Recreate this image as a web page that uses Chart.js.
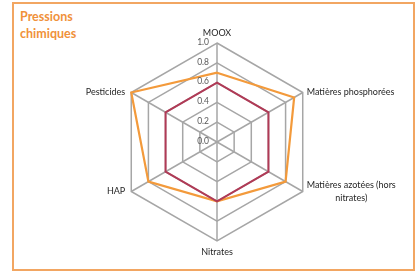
<!DOCTYPE html>
<html><head><meta charset="utf-8">
<script src="https://cdn.jsdelivr.net/npm/chart.js@4"></script>
<style>
html,body{margin:0;padding:0;background:#fff;width:418px;height:273px;overflow:hidden}
#frame{position:absolute;left:12px;top:2px;width:399px;height:265px;border:2px solid #F2A662;box-sizing:content-box}
#title{position:absolute;left:20px;top:8px;font:bold 12.5px Lato;color:#F0913A;line-height:17px}
#wrap{position:absolute;left:0;top:0;width:418px;height:273px}
</style></head>
<body>
<div id="frame"></div>
<div id="title">Pressions<br>chimiques</div>
<div id="wrap"><canvas id="c"></canvas></div>
<script>
const categories = ['MOOX', 'Matières phosphorées', ['Matières azotées (hors', 'nitrates)'], 'Nitrates', 'HAP', 'Pesticides'];
const seriesOrange = [0.7, 0.9, 0.8, 0.6, 0.8, 1.0];
const seriesRed = [0.6, 0.6, 0.6, 0.6, 0.6, 0.6];
const tickValues = [0, 0.2, 0.4, 0.6, 0.8, 1.0];
const tickLabels = ['0.0', '0.2', '0.4', '0.6', '0.8', '1.0'];

const labelPlugin = {
  id: 'customLabels',
  afterDraw(chart) {
    const s = chart.scales.r;
    const ctx = chart.ctx;
    ctx.save();
    ctx.textBaseline = 'middle';
    ctx.textAlign = 'center';
    ctx.font = '9px Lato';
    ctx.fillStyle = '#262626';
    chart.data.labels.forEach((lab, i) => {
      const lines = Array.isArray(lab) ? lab : [lab];
      const p = s.getPointPosition(i, s.drawingArea);
      const ang = s.getIndexAngle(i);
      const sn = Math.sin(ang), cs = Math.cos(ang);
      const lh = 13;
      const maxW = Math.max(...lines.map(l => ctx.measureText(l).width));
      let cx, cy = p.y;
      if (sn > 0.1) cx = p.x + 4 + maxW / 2;
      else if (sn < -0.1) cx = p.x - 6 - maxW / 2;
      else { cx = p.x; cy = p.y + (cs > 0 ? -10 : 11); }
      lines.forEach((l, k) => ctx.fillText(l, cx, cy + (k - (lines.length - 1) / 2) * lh));
    });
    ctx.font = '8.5px Lato';
    ctx.fillStyle = '#595959';
    ctx.textAlign = 'right';
    tickValues.forEach((v, i) => {
      const d = s.getDistanceFromCenterForValue(v);
      ctx.fillText(tickLabels[i], s.xCenter - 8, s.yCenter - d - 1);
    });
    ctx.restore();
  }
};

new Chart(document.getElementById('c'), {
  type: 'radar',
  data: {
    labels: categories,
    datasets: [
      { data: seriesRed, borderColor: '#B03A56', borderWidth: 2, fill: false, pointRadius: 0, tension: 0 },
      { data: seriesOrange, borderColor: '#F39A3B', borderWidth: 2.2, fill: false, pointRadius: 0, tension: 0 }
    ]
  },
  options: {
    responsive: true,
    maintainAspectRatio: false,
    animation: false,
    layout: { padding: { left: 17, right: 1, top: 43, bottom: 32 } },
    plugins: { legend: { display: false }, tooltip: { enabled: false } },
    scales: {
      r: {
        min: 0, max: 1,
        afterBuildTicks(scale) {
          scale.ticks = tickValues.map(v => ({ value: v }));
        },
        ticks: { display: false, stepSize: 0.2 },
        pointLabels: { display: false },
        grid: { color: '#A6A6A6', lineWidth: 1.5 },
        angleLines: { color: '#A6A6A6', lineWidth: 1.5 }
      }
    }
  },
  plugins: [labelPlugin]
});
</script>
</body></html>
